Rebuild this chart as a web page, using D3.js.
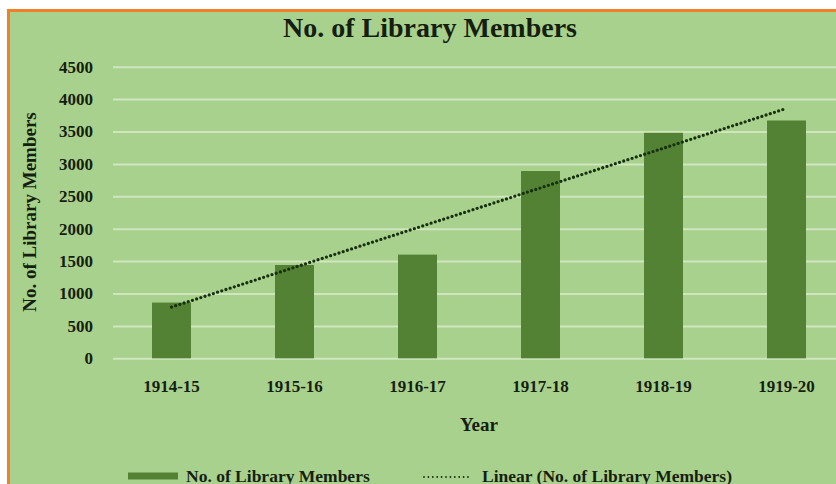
<!DOCTYPE html>
<html>
<head>
<meta charset="utf-8">
<script src="https://cdn.jsdelivr.net/npm/d3@7"></script>
<style>
  body { margin: 0; background: #fff; }
  svg text { font-family: "Liberation Serif", "Times New Roman", serif; font-weight: bold; fill: #151f10; }
  .grid line { stroke: #cfe6bf; stroke-width: 2; }
  .grid .domain { display: none; }
</style>
</head>
<body>
<svg id="chart" width="836" height="484"></svg>
<script>
const years = ['1914-15', '1915-16', '1916-17', '1917-18', '1918-19', '1919-20'];
const members = [860, 1440, 1600, 2890, 3480, 3670];
const yTicks = [0, 500, 1000, 1500, 2000, 2500, 3000, 3500, 4000, 4500];

const svg = d3.select('#chart');

// chart area with orange frame (runs past the crop on right/bottom)
svg.append('rect')
  .attr('x', 8.5).attr('y', 10.5).attr('width', 900).attr('height', 600)
  .attr('fill', '#a9d18e').attr('stroke', '#f07f2a').attr('stroke-width', 3);

const x = d3.scaleBand().domain(years).range([110, 848])
  .paddingInner(0.683).paddingOuter(0.3415);
const y = d3.scaleLinear().domain([0, 4500]).range([358.3, 66.7]);

// gridlines
svg.append('g').attr('class', 'grid')
  .attr('transform', 'translate(113,0)')
  .call(d3.axisLeft(y).tickValues(yTicks).tickSize(-760).tickFormat(''));

// bars
svg.append('g').selectAll('rect').data(members).enter().append('rect')
  .attr('x', (d, i) => x(years[i]))
  .attr('y', d => y(d))
  .attr('width', x.bandwidth())
  .attr('height', d => y(0) - y(d))
  .attr('fill', '#548235');

// linear trendline (least squares over category index)
const n = members.length;
const xs = members.map((_, i) => i + 1);
const mx = d3.mean(xs), my = d3.mean(members);
const slope = d3.sum(xs, (v, i) => (v - mx) * (members[i] - my)) / d3.sum(xs, v => (v - mx) ** 2);
const icpt = my - slope * mx;
const trend = [1, n].map(v => ({ cat: years[v - 1], val: icpt + slope * v }));

svg.append('path')
  .datum(trend)
  .attr('d', d3.line().x(d => x(d.cat) + x.bandwidth() / 2).y(d => y(d.val)))
  .attr('fill', 'none')
  .attr('stroke', '#17300e')
  .attr('stroke-width', 3.3)
  .attr('stroke-linecap', 'round')
  .attr('stroke-dasharray', '0 4.4');

// y axis labels
const yAxis = svg.append('g')
  .attr('transform', 'translate(93,0)')
  .call(d3.axisLeft(y).tickValues(yTicks).tickFormat(d3.format('d')).tickSize(0).tickPadding(0));
yAxis.select('.domain').remove();
yAxis.selectAll('text').attr('font-size', 17).attr('fill', '#151f10')
  .style('font-family', '"Liberation Serif", serif').style('font-weight', 'bold');

// x axis labels
const xAxis = svg.append('g')
  .attr('transform', 'translate(0,380)')
  .call(d3.axisBottom(x).tickSize(0).tickPadding(0));
xAxis.select('.domain').remove();
xAxis.selectAll('text').attr('font-size', 17).attr('dy', '0.71em').attr('fill', '#151f10')
  .style('font-family', '"Liberation Serif", serif').style('font-weight', 'bold');

// titles
svg.append('text').attr('x', 430).attr('y', 37).attr('text-anchor', 'middle')
  .attr('font-size', 28).text('No. of Library Members');
svg.append('text').attr('x', 479).attr('y', 431).attr('text-anchor', 'middle')
  .attr('font-size', 19).text('Year');
svg.append('text')
  .attr('transform', 'translate(36,212) rotate(-90)')
  .attr('text-anchor', 'middle').attr('font-size', 19)
  .text('No. of Library Members');

// legend
const leg = svg.append('g').attr('transform', 'translate(0,476)');
leg.append('rect').attr('x', 128).attr('y', -3.5).attr('width', 50).attr('height', 7).attr('fill', '#548235');
leg.append('text').attr('x', 186).attr('y', 5.5).attr('font-size', 17.5).text('No. of Library Members');
leg.append('line').attr('x1', 424).attr('x2', 470).attr('y1', 1).attr('y2', 1)
  .attr('stroke', '#17300e').attr('stroke-width', 1.8)
  .attr('stroke-linecap', 'round').attr('stroke-dasharray', '0 4.4');
leg.append('text').attr('x', 482).attr('y', 5.5).attr('font-size', 17.5).text('Linear (No. of Library Members)');
</script>
</body>
</html>
